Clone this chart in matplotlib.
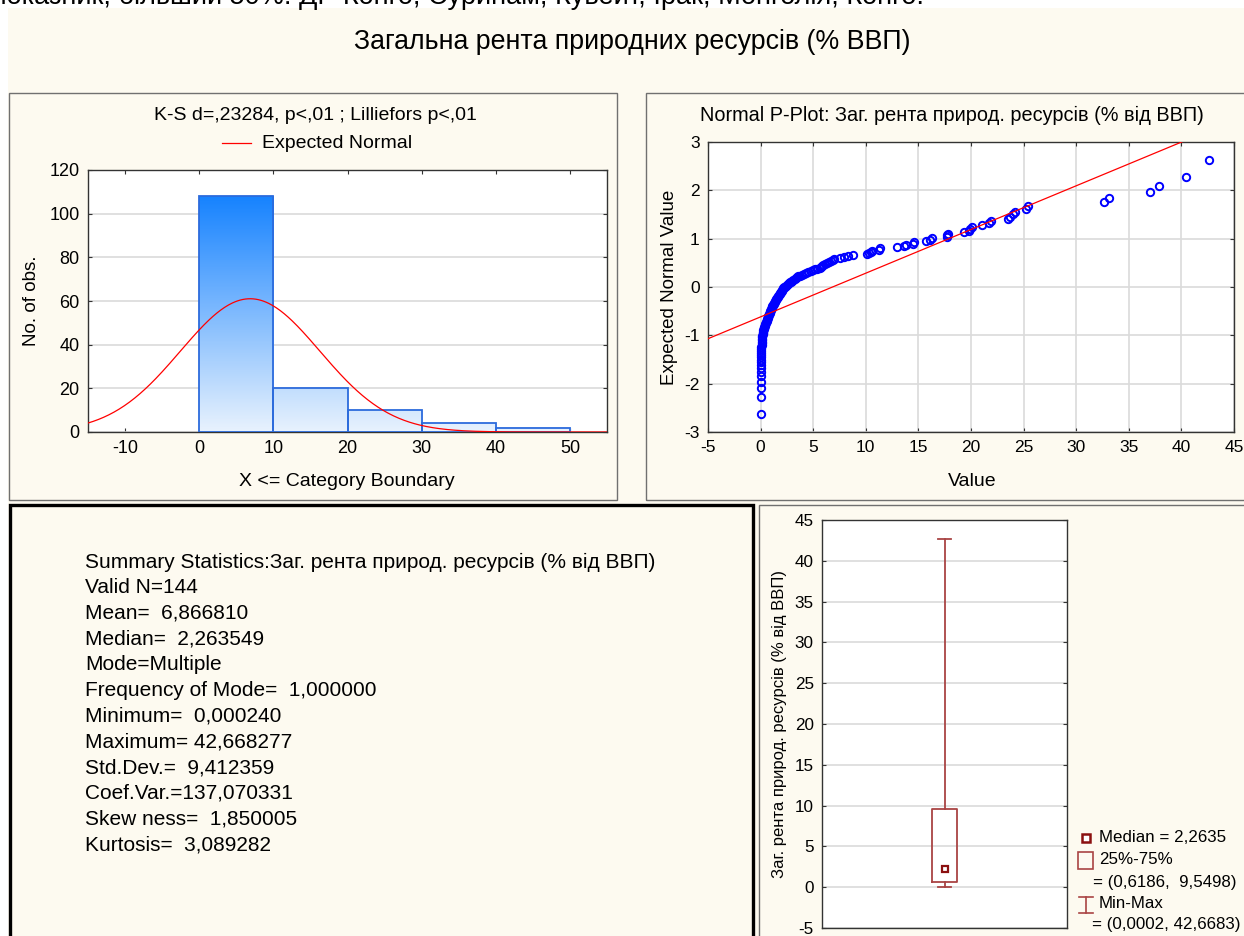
import numpy as np
import matplotlib
matplotlib.use('Agg')
import matplotlib.pyplot as plt
from matplotlib.patches import Rectangle
from matplotlib.lines import Line2D
from matplotlib.colors import LinearSegmentedColormap
from statistics import NormalDist

plt.rcParams['font.family'] = ['Liberation Sans', 'DejaVu Sans']
plt.rcParams['axes.unicode_minus'] = False

# ---- data ----
top_note = "показник, більший 50%: ДР Конго, Суринам, Кувейт, Ірак, Монголія, Конго."
main_title = "Загальна рента природних ресурсів (% ВВП)"
var_short = "Заг. рента природ. ресурсів (% від ВВП)"

# histogram
bin_edges = [0, 10, 20, 30, 40, 50]
bin_counts = [108, 20, 10, 4, 2]
hist_title = "K-S d=,23284, p<,01 ; Lilliefors p<,01"

# summary statistics
n_valid = 144
mean = 6.866810
std = 9.412359
stat_lines = [
    "Summary Statistics:" + var_short,
    "Valid N=144",
    "Mean=  6,866810",
    "Median=  2,263549",
    "Mode=Multiple",
    "Frequency of Mode=  1,000000",
    "Minimum=  0,000240",
    "Maximum= 42,668277",
    "Std.Dev.=  9,412359",
    "Coef.Var.=137,070331",
    "Skew ness=  1,850005",
    "Kurtosis=  3,089282",
]

# sorted observed values (estimated from the P-plot)
values = [
    0.0002, 0.003, 0.008, 0.012, 0.018, 0.022, 0.027, 0.031, 0.036, 0.04,
    0.045, 0.05, 0.056, 0.063, 0.07, 0.08,
    0.09, 0.10, 0.11, 0.12, 0.14, 0.15, 0.17, 0.19, 0.21, 0.23,
    0.26, 0.29, 0.32, 0.35, 0.39, 0.43, 0.47, 0.52, 0.57, 0.62,
    0.65, 0.68, 0.71, 0.75, 0.78, 0.82, 0.85, 0.89, 0.93, 0.97,
    1.01, 1.05, 1.09, 1.13, 1.17, 1.21, 1.25, 1.30, 1.35, 1.40,
    1.45, 1.50, 1.55, 1.60, 1.65, 1.70, 1.75, 1.80, 1.86, 1.92,
    1.98, 2.03, 2.08, 2.12, 2.16, 2.20,
    2.33, 2.42, 2.50, 2.60, 2.70, 2.80, 2.90, 3.00, 3.10, 3.25,
    3.35, 3.50, 3.60, 3.75, 3.90, 4.10, 4.30, 4.50, 4.75, 5.00,
    5.20, 5.40, 5.60, 5.75, 5.85, 5.95, 6.10, 6.30, 6.50, 6.70,
    6.90, 7.00, 7.50, 7.90, 8.30, 8.80,
    10.1, 10.3, 10.5, 10.6, 11.3, 11.35, 13.0, 13.6, 13.8, 14.5,
    14.55, 15.7, 16.1, 16.3, 17.7, 17.75, 17.8, 19.3, 19.8, 19.9,
    20.1, 21.0, 21.7, 21.9, 23.5, 23.7, 24.0, 24.2, 25.2, 25.4,
    32.6, 33.1, 37.0, 37.9, 40.4, 42.668277,
]
pplot_title = "Normal P-Plot: " + var_short
line_x = [-5, 45]
line_intercept = -0.618
line_slope = 0.0904

# box plot
box_med = 2.2635
box_q1 = 0.6186
box_q3 = 9.5498
box_min = 0.0002
box_max = 42.6683

# ---- layout helpers (pixel coordinates, origin top-left) ----
W, H = 1244, 936
cream = '#FDFAF0'
fig = plt.figure(figsize=(W / 100, H / 100), dpi=100, facecolor='white')


def fx(x):
    return x / W


def fy(y):
    return 1 - y / H


def add_ax(x0, y0, x1, y1):
    return fig.add_axes([fx(x0), fy(y1), (x1 - x0) / W, (y1 - y0) / H])


def frame(x0, y0, x1, y1, color, lw, z=0):
    fig.add_artist(Rectangle((fx(x0), fy(y1)), (x1 - x0) / W, (y1 - y0) / H,
                             transform=fig.transFigure, fill=False,
                             ec=color, lw=lw, zorder=z))


def txt(x, y, s, size, ha='left', va='center', rot=0, **kw):
    fig.text(fx(x), fy(y), s, fontsize=size, ha=ha, va=va, rotation=rot, **kw)


fig.add_artist(Rectangle((fx(8), 0), 1 - fx(8), fy(8), transform=fig.transFigure,
                         fc=cream, ec='none', zorder=-10))

# the previous page's last line, cut by the top edge as in the scan
txt(-8, 4.5, top_note, 19.5, va='baseline')
txt(632, 42, main_title, 19.3, ha='center')

frame(9, 93, 617, 500, '#707070', 1.0)
frame(646, 93, 1260, 500, '#707070', 1.0)
frame(10, 505, 753, 950, 'black', 2.4)
frame(759, 505, 1260, 950, '#707070', 1.0)


def style(ax, size):
    ax.set_facecolor('white')
    ax.tick_params(direction='in', length=3, top=True, right=True,
                   labelsize=size, pad=6, color='#333333')
    for sp in ax.spines.values():
        sp.set_color('#333333')
        sp.set_linewidth(1.0)
    ax.set_axisbelow(True)


# ---- histogram ----
ax1 = add_ax(88, 170, 607, 432)
style(ax1, 13)
cmap = LinearSegmentedColormap.from_list('bar', ['#E8F2FD', '#1783FF'])
hmax = max(bin_counts)
for left, right, h in zip(bin_edges[:-1], bin_edges[1:], bin_counts):
    grad = np.linspace(h / hmax, 0, 200).reshape(-1, 1)
    ax1.imshow(grad, extent=(left, right, 0, h), aspect='auto', cmap=cmap,
               vmin=0, vmax=1, zorder=2, interpolation='bilinear')
ax1.bar(bin_edges[:-1], bin_counts, width=np.diff(bin_edges), align='edge',
        fill=False, edgecolor='#2C6BDC', linewidth=1.3, zorder=3)
xs = np.linspace(-15, 55, 400)
binw = bin_edges[1] - bin_edges[0]
curve = n_valid * binw * np.exp(-0.5 * ((xs - mean) / std) ** 2) / (std * np.sqrt(2 * np.pi))
ax1.plot(xs, curve, color='#FF0000', lw=0.9, zorder=4)
ax1.set_xlim(-15, 55)
ax1.set_ylim(0, 120)
ax1.set_xticks(range(-10, 51, 10))
ax1.set_yticks(range(0, 121, 20))
ax1.grid(axis='y', color='#DADADA', lw=1.2)

txt(315, 116, hist_title, 14, ha='center')
fig.add_artist(Line2D([fx(222), fx(251)], [fy(143), fy(143)], color='#FF0000',
                      lw=0.9, transform=fig.transFigure))
txt(262, 143, "Expected Normal", 14)
txt(32, 301, "No. of obs.", 13.5, ha='center', rot=90)
txt(347, 482, "X <= Category Boundary", 14, ha='center')

# ---- normal P-plot ----
ax2 = add_ax(708, 142, 1234, 432)
style(ax2, 12.5)
nd = NormalDist()
zs = [nd.inv_cdf((i + 1 - 0.375) / (len(values) + 0.25)) for i in range(len(values))]
ax2.plot(values, zs, 'o', ms=5.3, mfc='none', mec='#0000FF', mew=1.4, zorder=3)
lx = np.array(line_x, dtype=float)
ax2.plot(lx, line_intercept + line_slope * lx, color='#FF0000', lw=0.9, zorder=4)
ax2.set_xlim(-5, 45)
ax2.set_ylim(-3, 3)
ax2.set_xticks(range(-5, 46, 5))
ax2.set_yticks(range(-3, 4))
ax2.grid(color='#DADADA', lw=1.2)

txt(952, 115, pplot_title, 14.3, ha='center')
txt(669, 287, "Expected Normal Value", 13.5, ha='center', rot=90)
txt(972, 482, "Value", 14, ha='center')

# ---- summary statistics ----
for k, line in enumerate(stat_lines):
    txt(85, 562 + k * 25.7, line, 15)

# ---- box plot ----
box_col = '#A94444'
ax3 = add_ax(822, 520, 1067, 928)
style(ax3, 12.3)
ax3.tick_params(axis='x', bottom=False, top=False, labelbottom=False)
stats = [{'med': box_med, 'q1': box_q1, 'q3': box_q3,
          'whislo': box_min, 'whishi': box_max, 'fliers': []}]
ax3.bxp(stats, positions=[0], widths=0.2, capwidths=0.1, showfliers=False,
        boxprops=dict(color=box_col, lw=1.3),
        whiskerprops=dict(color=box_col, lw=1.3),
        capprops=dict(color=box_col, lw=1.3),
        medianprops=dict(visible=False))
ax3.plot([0], [box_med], 's', ms=4.2, mfc='white', mec='#8B1010', mew=1.6, zorder=5)
ax3.set_xlim(-1, 1)
ax3.set_ylim(-5, 45)
ax3.set_yticks(range(-5, 46, 5))
ax3.grid(axis='y', color='#DADADA', lw=1.2)

txt(780, 724, var_short, 12, ha='center', rot=90)

# box legend
fig.add_artist(Line2D([fx(1086)], [fy(838)], marker='s', ms=5.5, mfc='white',
                      mec='#8B1010', mew=1.8, transform=fig.transFigure))
txt(1099, 838, "Median = 2,2635", 12.2)
fig.add_artist(Rectangle((fx(1078), fy(869)), 15 / W, 17 / H, transform=fig.transFigure,
                         fill=False, ec=box_col, lw=1.2))
txt(1099, 860, "25%-75%", 12.2)
txt(1093, 882, "= (0,6186,  9,5498)", 12.2)
for xa, ya, xb, yb in [(1086, 897, 1086, 913), (1079, 897, 1093, 897), (1079, 913, 1093, 913)]:
    fig.add_artist(Line2D([fx(xa), fx(xb)], [fy(ya), fy(yb)], color=box_col, lw=1.2,
                          transform=fig.transFigure))
txt(1099, 904, "Min-Max", 12.2)
txt(1092, 925, "= (0,0002, 42,6683)", 12.2)

fig.savefig('out.png', dpi=100, facecolor=fig.get_facecolor())
